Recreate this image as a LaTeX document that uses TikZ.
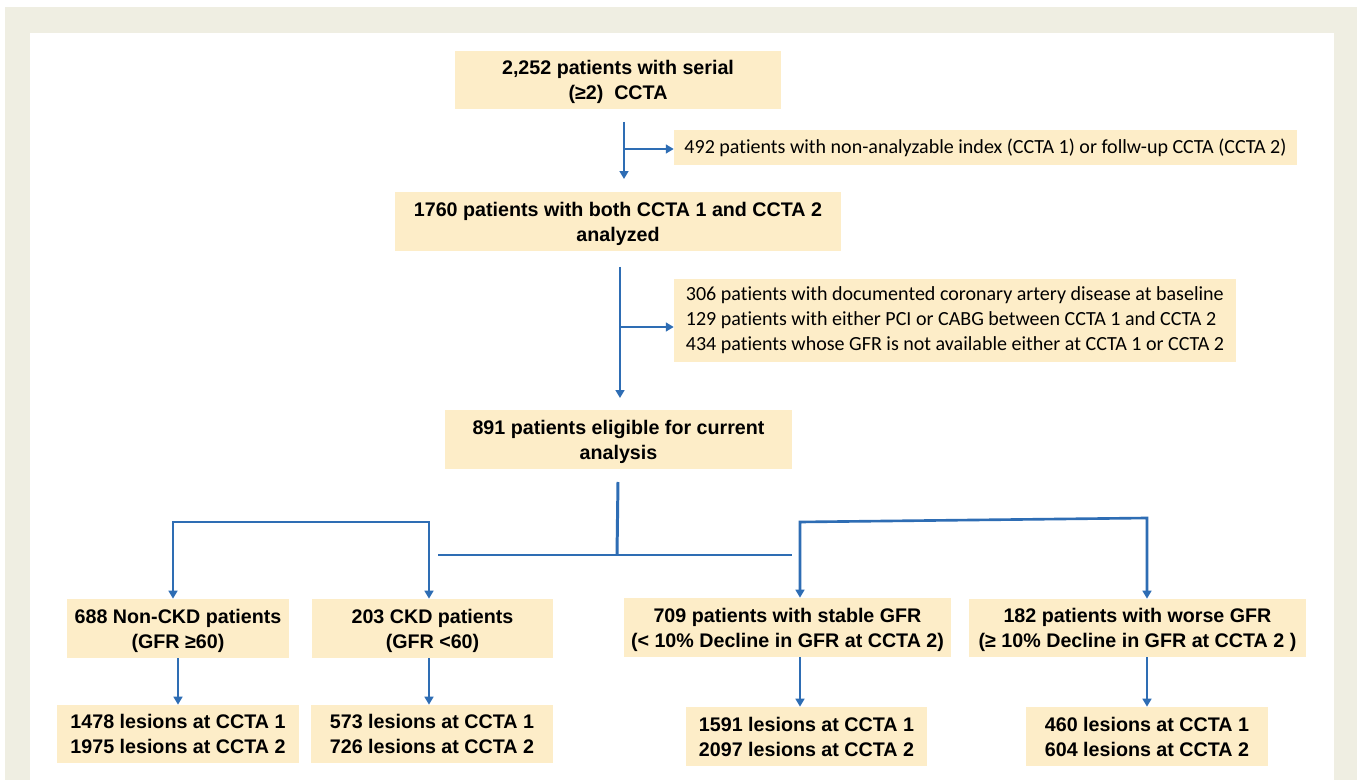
\documentclass[tikz,border=0pt]{standalone}
\usepackage{fontspec}
\usepackage{tikz}
\usetikzlibrary{arrows.meta}
\setmainfont{Liberation Sans}
\newfontfamily\sidefont[Ligatures=NoCommon]{Carlito}
\definecolor{boxfill}{RGB}{253,237,200}
\definecolor{lineblue}{RGB}{46,109,180}
\definecolor{framebg}{RGB}{239,238,226}
\tikzset{
	mainbox/.style={rectangle, fill=boxfill, inner sep=0pt, align=center, font=\fontsize{11.2}{14.1}\selectfont\bfseries, text depth=0pt},
	sidebox/.style={rectangle, fill=boxfill, inner sep=0pt, align=left, font=\sidefont\fontsize{11.4}{14.3}\selectfont},
	arr/.style={lineblue, line width=1.5pt, -{Triangle[length=4.5pt,width=5pt]}},
	twoarr/.style={lineblue, line width=1.5pt, {Triangle[length=4.5pt,width=5pt]}-{Triangle[length=4.5pt,width=5pt]}},
	bar/.style={lineblue, line width=1.7pt}
}

\begin{document}
\begin{tikzpicture}[x=0.02cm, y=-0.02cm]
				\useasboundingbox (0,0) rectangle (1357,780);
				\fill[framebg] (5,7) rectangle (1357,780);
				\fill[white] (30,33) rectangle (1334,780);
				% main column
				\node[mainbox, minimum width=6.52cm, minimum height=1.16cm] (all)at(618,80) {2,252 patients with serial\\(≥2)\ \ CCTA};
				\node[mainbox, minimum width=8.92cm, minimum height=1.18cm] (both)at(618,221.5) {1760 patients with both CCTA 1 and CCTA 2\\analyzed};
				\node[mainbox, minimum width=6.94cm, minimum height=1.18cm] (elig)at(618.5,439.5) {891 patients eligible for current\\analysis};
				% exclusions
				\node[sidebox, minimum width=12.46cm, minimum height=0.70cm] (exA)at(985.5,147.5) {492 patients with non-analyzable index (CCTA 1) or follw-up CCTA (CCTA 2)};
				\node[sidebox, minimum width=11.24cm, minimum height=1.66cm] (exB)at(955,320.5) {306 patients with documented coronary artery disease at baseline\\129 patients with either PCI or CABG between CCTA 1 and CCTA 2\\434 patients whose GFR is not available either at CCTA 1 or CCTA 2};
				% groups
				\node[mainbox, minimum width=4.44cm, minimum height=1.18cm] (nonckd)at(178,628.5) {688 Non-CKD patients\\(GFR ≥60)};
				\node[mainbox, minimum width=4.82cm, minimum height=1.18cm] (ckd)at(432.5,628.5) {203 CKD patients\\(GFR <60)};
				\node[mainbox, minimum width=6.54cm, minimum height=1.18cm] (stable)at(787.5,627.5) {709 patients with stable GFR\\(< 10\% Decline in GFR at CCTA 2)};
				\node[mainbox, minimum width=6.74cm, minimum height=1.16cm] (worse)at(1137.5,628) {182 patients with worse GFR\\(≥ 10\% Decline in GFR at CCTA 2 )};
				% lesions
				\node[mainbox, minimum width=4.84cm, minimum height=1.16cm] (lesA)at(178,734) {1478 lesions at CCTA 1\\1975 lesions at CCTA 2};
				\node[mainbox, minimum width=4.84cm, minimum height=1.16cm] (lesB)at(432,734) {573 lesions at CCTA 1\\726 lesions at CCTA 2};
				\node[mainbox, minimum width=4.82cm, minimum height=1.18cm] (lesC)at(806.5,736.5) {1591 lesions at CCTA 1\\2097 lesions at CCTA 2};
				\node[mainbox, minimum width=4.84cm, minimum height=1.18cm] (lesD)at(1147,736.5) {460 lesions at CCTA 1\\604 lesions at CCTA 2};
				% connector points
				\coordinate (s1)at(624,122);
				\coordinate (e1)at(624,179);
				\coordinate (b1)at(624,149);
				\coordinate (s2)at(620,267);
				\coordinate (e2)at(620,398);
				\coordinate (b2)at(620,327);
				\coordinate (s3)at(618,482);
				\coordinate (m3)at(617,555);
				\coordinate (hl)at(438,555);
				\coordinate (hr)at(792,555);
				\coordinate (la)at(173,522);
				\coordinate (lb)at(429,522);
				\coordinate (ra)at(800,522);
				\coordinate (rb)at(1147,518);
				\draw[arr] (s1) -- (e1);
				\draw[arr] (b1) -- (b1 -| exA.west);
				\draw[arr] (s2) -- (e2);
				\draw[arr] (b2) -- (b2 -| exB.west);
				\draw[bar] (s3) -- (m3);
				\draw[bar] (hl) -- (hr);
				\draw[twoarr] (la |- nonckd.north) -- (la) -- (lb) -- (lb |- ckd.north);
				\draw[twoarr] (ra |- stable.north) -- (ra) -- (rb) -- (rb |- worse.north);
				\draw[arr] (nonckd.south) -- (nonckd.south |- lesA.north);
				\draw[arr] (lb |- ckd.south) -- (lb |- lesB.north);
				\draw[arr] (ra |- stable.south) -- (ra |- lesC.north);
				\draw[arr] (rb |- worse.south) -- (rb |- lesD.north);
			\end{tikzpicture}
\end{document}
